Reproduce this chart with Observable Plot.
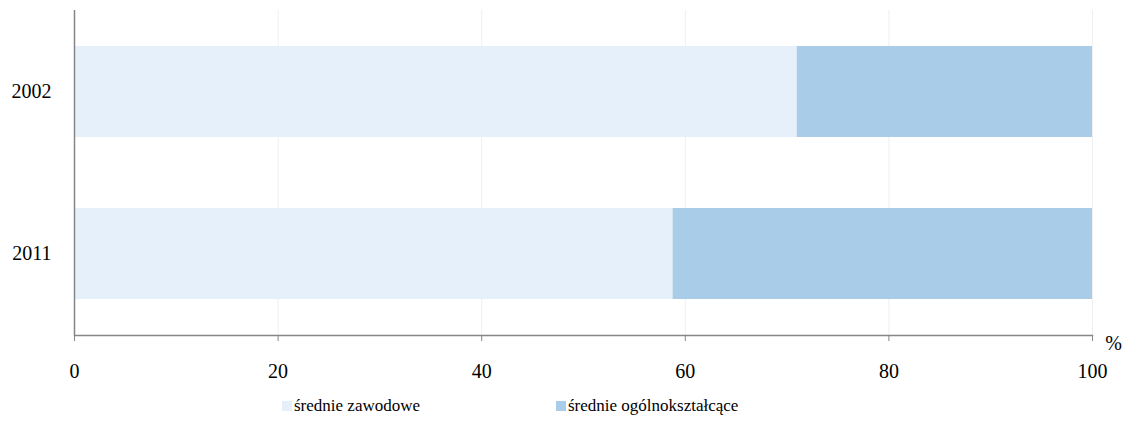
<!DOCTYPE html>
<html>
<head>
<meta charset="utf-8">
<script src="https://cdn.jsdelivr.net/npm/d3@7"></script>
<script src="https://cdn.jsdelivr.net/npm/@observablehq/plot@0.6"></script>
<style>
  html, body { margin: 0; padding: 0; background: #fff; }
  body { width: 1126px; height: 421px; overflow: hidden; font-family: "Liberation Serif", "Times New Roman", serif; }
  #legend { position: relative; height: 31px; }
  .item { position: absolute; top: 6px; display: flex; align-items: center; font-family: "Liberation Serif", "Times New Roman", serif; font-size: 17px; color: #000; line-height: 20px; }
  .sw { width: 10px; height: 10px; margin-right: 2px; display: inline-block; }
</style>
</head>
<body>
<div id="chart"></div>
<div id="legend"></div>
<script>
const years = ["2002", "2011"];
const series = ["średnie zawodowe", "średnie ogólnokształcące"];
const vocational = [71.0, 58.8];
const general = [29.0, 41.2];
const colors = ["#e6f0fa", "#a9cde8"];
const xTicks = [0, 20, 40, 60, 80, 100];

const data = [];
years.forEach((y, i) => {
  data.push({year: y, type: series[0], value: vocational[i]});
  data.push({year: y, type: series[1], value: general[i]});
});

const axisColor = "#868686";
const serif = "'Liberation Serif', 'Times New Roman', serif";

const chart = Plot.plot({
  width: 1126,
  height: 390,
  marginLeft: 74,
  marginRight: 34,
  marginTop: 10,
  marginBottom: 55,
  style: { fontFamily: serif, fontSize: "20px", color: "#000", background: "#fff" },
  x: { domain: [0, 100] },
  y: { domain: years, paddingInner: 0.44, paddingOuter: 0.22, label: null },
  color: { domain: series, range: colors },
  marks: [
    Plot.gridX(xTicks, { stroke: "#efefef", strokeOpacity: 1 }),
    Plot.barX(data, { x: "value", y: "year", fill: "type", order: series }),
    Plot.ruleX([0], { stroke: axisColor, strokeWidth: 1.5 }),
    Plot.frame({ anchor: "bottom", stroke: axisColor, strokeWidth: 1.5 }),
    Plot.axisX(xTicks, { tickSize: 6, stroke: axisColor, tickPadding: 22, label: null, fill: "#000", fontFamily: serif }),
    Plot.axisY({ tickSize: 0, tickPadding: 23, label: null, fill: "#000", fontFamily: serif }),
    Plot.text(["%"], { frameAnchor: "bottom-right", dx: 21, dy: 8, textAnchor: "middle", lineAnchor: "middle", text: d => d, fill: "#000", fontFamily: serif })
  ]
});
document.getElementById("chart").appendChild(chart);

const legend = document.getElementById("legend");
const positions = [282, 556];
series.forEach((s, i) => {
  const it = document.createElement("div");
  it.className = "item";
  it.style.left = positions[i] + "px";
  const sw = document.createElement("span");
  sw.className = "sw";
  sw.style.background = colors[i];
  const t = document.createElement("span");
  t.textContent = s;
  it.appendChild(sw);
  it.appendChild(t);
  legend.appendChild(it);
});
</script>
</body>
</html>
